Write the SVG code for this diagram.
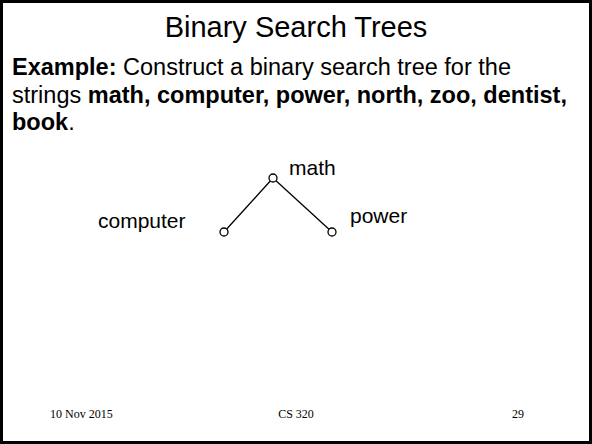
<svg xmlns="http://www.w3.org/2000/svg" width="592" height="444" viewBox="0 0 592 444">
<style>
.t{font-family:"Liberation Sans",Arial,sans-serif;fill:#000}
.b{font-size:23.5px}
.f{font-family:"Liberation Serif","Times New Roman",serif;font-size:12px;fill:#000}
.n{fill:#fff;stroke:#000;stroke-width:1.3}
.e{stroke:#000;stroke-width:1.3;fill:none}
</style>
<rect x="1.5" y="1.5" width="589" height="441" fill="#fff" stroke="#000" stroke-width="3"/>
<text class="t" x="296" y="37" font-size="29" text-anchor="middle">Binary Search Trees</text>
<text class="t b" x="12" y="75"><tspan font-weight="bold">Example:</tspan> Construct a binary search tree for the</text>
<text class="t b" x="12" y="102.5">strings <tspan font-weight="bold">math, computer, power, north, zoo, dentist,</tspan></text>
<text class="t b" x="12" y="130"><tspan font-weight="bold">book</tspan>.</text>
<g id="connectors">
<line class="e" x1="273" y1="178" x2="224" y2="232"/>
<line class="e" x1="273" y1="178" x2="332" y2="232"/>
</g>
<g id="math">
<circle class="n" cx="273" cy="178" r="4"/>
<text class="t" x="289" y="175" font-size="21">math</text>
</g>
<g id="computer">
<circle class="n" cx="224" cy="232" r="4"/>
<text class="t" x="98" y="228" font-size="21">computer</text>
</g>
<g id="power">
<circle class="n" cx="332" cy="232" r="4"/>
<text class="t" x="350" y="223" font-size="21">power</text>
</g>
<text class="f" x="50" y="418">10 Nov 2015</text>
<text class="f" x="296" y="418" text-anchor="middle">CS 320</text>
<text class="f" x="512" y="418">29</text>
</svg>
